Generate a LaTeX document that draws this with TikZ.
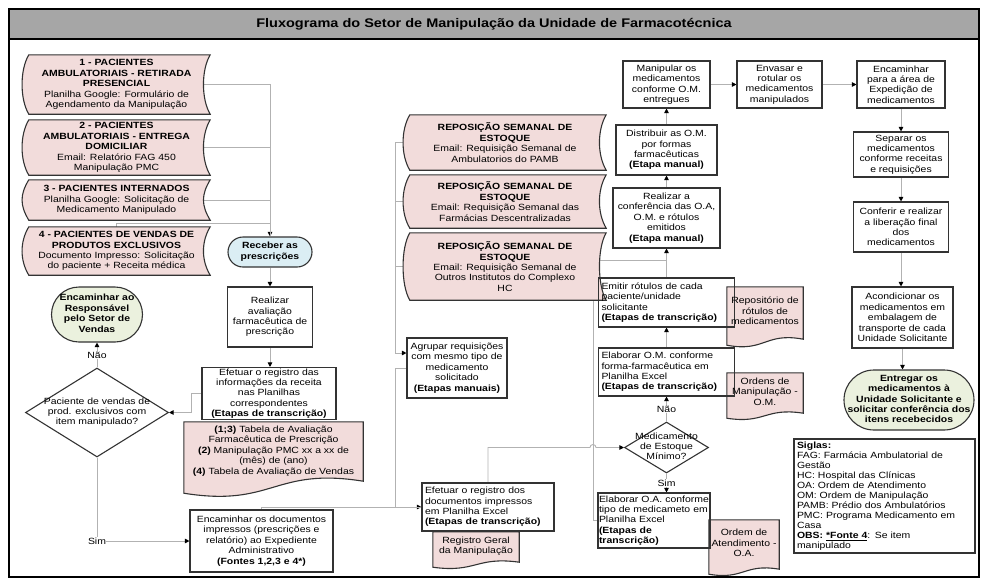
\documentclass[tikz,border=0pt]{standalone}
\usepackage{fontspec}
\setmainfont{Liberation Sans}[FakeStretch=1.16]
\usetikzlibrary{shapes.geometric,shapes.misc,arrows.meta,calc}
\definecolor{pinkfill}{HTML}{F2DCDB}
\definecolor{bluefill}{HTML}{DBEEF4}
\definecolor{greenfill}{HTML}{EBF1DE}
\definecolor{headgray}{HTML}{A6A6A6}
\pgfdeclarelayer{links}
\pgfdeclarelayer{shapes}
\pgfsetlayers{links,shapes,main}
\newcommand{\fsz}{\fontsize{9}{10.4}\selectfont}
\newcommand{\midtxt}[1]{\makebox[0pt]{\smash{\raisebox{-0.25em}{\begin{tabular}{@{}c@{}}#1\end{tabular}}}}}

\begin{document}
\begin{tikzpicture}[x=1pt, y=-1pt,
		every node/.style={font=\fsz, inner sep=1pt},
		box/.style={rectangle, draw=black!80, line width=1.1pt, align=center},
		lbox/.style={box, align=left},
		term/.style={rounded rectangle, draw=black!80, line width=1.1pt, font=\fsz\bfseries},
		src/.style={rectangle, align=center},
		doc/.style={rectangle, align=center, inner sep=0pt},
		dec/.style={diamond, draw=black!80, line width=1.1pt, inner sep=0pt},
		link/.style={draw=black!30, line width=0.9pt},
		arr/.style={link, -{Triangle[color=black, length=4.5pt, width=4.5pt]}},
		lbl/.style={fill=white, inner sep=0.5pt}
	]
	\useasboundingbox (0,0) rectangle (988,584);
	\draw[line width=1.3pt] (9,9) rectangle (979,577);
	\filldraw[fill=headgray, draw=black, line width=1.1pt] (9,9) rectangle (979,39);
	\node[font=\fontsize{12.5}{14}\selectfont\bfseries] (title) at (494,24) {Fluxograma do Setor de Manipulação da Unidade de Farmacotécnica};

	% entradas
	\node[src, minimum width=187, minimum height=59] (s1) at (116.5,84.5) {\textbf{1 - PACIENTES}\\\textbf{AMBULATORIAIS - RETIRADA}\\\textbf{PRESENCIAL}\\Planilha Google: Formulário de\\Agendamento da Manipulação};
	\node[src, minimum width=187, minimum height=55] (s2) at (116.5,147.5) {\textbf{2 - PACIENTES}\\\textbf{AMBULATORIAIS - ENTREGA}\\\textbf{DOMICILIAR}\\Email: Relatório FAG 450\\Manipulação PMC};
	\node[src, minimum width=187, minimum height=40] (s3) at (116.5,200) {\textbf{3 - PACIENTES INTERNADOS}\\Planilha Google: Solicitação de\\Medicamento Manipulado};
	\node[src, minimum width=187, minimum height=48] (s4) at (116.5,251) {\textbf{4 - PACIENTES DE VENDAS DE}\\\textbf{PRODUTOS EXCLUSIVOS}\\Documento Impresso: Solicitação\\do paciente + Receita médica};
	\node[src, minimum width=202, minimum height=55] (r1) at (505,142.5) {\textbf{REPOSIÇÃO SEMANAL DE}\\\textbf{ESTOQUE}\\Email: Requisição Semanal de\\Ambulatorios do PAMB};
	\node[src, minimum width=202, minimum height=53] (r2) at (505,201.5) {\textbf{REPOSIÇÃO SEMANAL DE}\\\textbf{ESTOQUE}\\Email: Requisição Semanal das\\Farmácias Descentralizadas};
	\node[src, minimum width=202, minimum height=67] (r3) at (505,266.5) {\textbf{REPOSIÇÃO SEMANAL DE}\\\textbf{ESTOQUE}\\Email: Requisição Semanal de\\Outros Institutos do Complexo\\HC};

	% coluna esquerda
	\node[term, fill=bluefill, minimum width=86, minimum height=30] (rcv) at (270,252) {\midtxt{Receber as\\prescrições}};
	\node[box, minimum width=85, minimum height=60] (aval) at (270,317) {Realizar\\avaliação\\farmacêutica de\\prescrição};
	\node[box, minimum width=134, minimum height=51] (regA) at (269,393.5) {Efetuar o registro das\\informações da receita\\nas Planilhas\\correspondentes\\\textbf{(Etapas de transcrição)}};
	\node[doc, minimum width=179, minimum height=58] (docA) at (273.5,451) {\textbf{(1;3)} Tabela de Avaliação\\Farmacêutica de Prescrição\\\textbf{(2)} Manipulação PMC xx a xx de\\(mês) de (ano)\\\textbf{(4)} Tabela de Avaliação de Vendas};
	\node[term, fill=greenfill, minimum width=93, minimum height=55] (resp) at (97,314.5) {\midtxt{Encaminhar ao\\Responsável\\pelo Setor de\\Vendas}};
	\node[dec, minimum width=143, minimum height=89] (q1) at (97,412.5) {\midtxt{Paciente de vendas de\\prod. exclusivos com\\item manipulado?}};
	\node[box, minimum width=143, minimum height=62] (docsE) at (261.5,541) {Encaminhar os documentos\\impressos (prescrições e\\relatório) ao Expediente\\Administrativo\\\textbf{(Fontes 1,2,3 e 4*)}};

	% coluna central
	\node[box, minimum width=100, minimum height=60] (grp) at (457,368) {Agrupar requisições\\com mesmo tipo de\\medicamento\\solicitado\\\textbf{(Etapas manuais)}};
	\node[lbox, text width=126, minimum width=132, minimum height=48] (regD) at (488,507) {Efetuar o registro dos\\documentos impressos\\em Planilha Excel\\\textbf{(Etapas de transcrição)}};
	\node[doc, minimum width=86, minimum height=28] (docG) at (476,546) {Registro Geral\\da Manipulação};

	% coluna da manipulacao
	\node[box, minimum width=87, minimum height=47] (manip) at (666.5,84.5) {Manipular os\\medicamentos\\conforme O.M.\\entregues};
	\node[box, minimum width=101, minimum height=50] (dist) at (666.5,150) {Distribuir as O.M.\\por formas\\farmacêuticas\\\textbf{(Etapa manual)}};
	\node[box, minimum width=107, minimum height=60] (conf) at (666.5,218) {Realizar a\\conferência das O.A,\\O.M. e rótulos\\emitidos\\\textbf{(Etapa manual)}};
	\node[lbox, text width=130, minimum width=136, minimum height=49] (emit) at (666.5,302.5) {Emitir rótulos de cada\\paciente/unidade\\solicitante\\\textbf{(Etapas de transcrição)}};
	\node[lbox, text width=130, minimum width=136, minimum height=48] (elabOM) at (666.5,372) {Elaborar O.M. conforme\\forma-farmacêutica em\\Planilha Excel\\\textbf{(Etapas de transcrição)}};
	\node[dec, minimum width=84, minimum height=51] (dec2) at (666.5,447.5) {\midtxt{Medicamento\\de Estoque\\Mínimo?}};
	\node[lbox, text width=110, minimum width=112, minimum height=55] (elabOA) at (654,520.5) {Elaborar O.A. conforme\\tipo de medicameto em\\Planilha Excel\\\textbf{(Etapas de}\\\textbf{transcrição)}};
	\node[doc, minimum width=76, minimum height=48] (docR) at (765,311) {Repositório de\\rótulos de\\medicamentos};
	\node[doc, minimum width=76, minimum height=37] (docO) at (765,391.5) {Ordens de\\Manipulação -\\O.M.};
	\node[doc, minimum width=70, minimum height=46] (docT) at (744,543) {Ordem de\\Atendimento -\\O.A.};
	\coordinate (loopx) at (593,0);

	% expedicao
	\node[box, minimum width=85, minimum height=47] (envas) at (779.5,84.5) {Envasar e\\rotular os\\medicamentos\\manipulados};
	\node[box, minimum width=88, minimum height=47] (exped) at (901,84.5) {Encaminhar\\para a área de\\Expedição de\\medicamentos};
	\node[box, minimum width=95, minimum height=45] (separ) at (901,154.5) {Separar os\\medicamentos\\conforme receitas\\e requisições};
	\node[box, minimum width=95, minimum height=50] (confer) at (901,227) {Conferir e realizar\\a liberação final\\dos\\medicamentos};
	\node[box, minimum width=101, minimum height=61] (acond) at (902.5,317.5) {Acondicionar os\\medicamentos em\\embalagem de\\transporte de cada\\Unidade Solicitante};
	\node[term, fill=greenfill, minimum width=132, minimum height=60] (entreg) at (909,400) {\midtxt{Entregar os\\medicamentos à\\Unidade Solicitante e\\solicitar conferência dos\\itens recebecidos}};
	\node[lbox, font=\fontsize{9}{10}\selectfont, text width=175, minimum width=181, minimum height=114] (siglas) at (884.5,496) {\textbf{Siglas:}\\FAG: Farmácia Ambulatorial de\\Gestão\\HC: Hospital das Clínicas\\OA: Ordem de Atendimento\\OM: Ordem de Manipulação\\PAMB: Prédio dos Ambulatórios\\PMC: Programa Medicamento em\\Casa\\\textbf{OBS: \underline{*Fonte 4}}: Se item\\manipulado};

	\begin{pgfonlayer}{shapes}
		\foreach \n in {s1,s2,s3,s4,r1,r2,r3}
			\filldraw[fill=pinkfill, draw=black!80, line width=1.1pt] ([xshift=6pt]\n.north west) -- (\n.north east) .. controls +(-9pt,-15pt) and +(-9pt,15pt) .. (\n.south east) -- ([xshift=6pt]\n.south west) .. controls +(-9pt,15pt) and +(-9pt,-15pt) .. ([xshift=6pt]\n.north west) -- cycle;
		\foreach \n/\d/\e in {docA/12/13, docG/5/7, docR/6/10, docO/5/8, docT/5/8}
			\filldraw[fill=pinkfill, draw=black!80, line width=1.1pt] (\n.north west) -- (\n.north east) -- ([yshift=\d-\e]\n.south east) .. controls ([yshift=2.2*\d-\e]\n.south) and ([yshift=-1.2*\d-\e]\n.south) .. ([yshift=-\e]\n.south west) -- cycle;
	\end{pgfonlayer}

	\begin{pgfonlayer}{links}
		\draw[arr] ([xshift=-8pt]s1.east) -| (rcv.north);
		\draw[link] ([xshift=-8pt]s2.east) -- (s2.east -| rcv.north);
		\draw[link] ([xshift=-8pt]s3.east) -- (s3.east -| rcv.north);
		\draw[link] (s4.north) -- ++(0,-3) -| (rcv.north);
		\draw[arr] (rcv.south) -- (rcv.south |- aval.north);
		\draw[arr] (aval.south) -- (aval.south |- regA.north);
		\draw[arr] (regA.west) -- ++(-10,0) |- (q1.east);
		\draw[arr] (q1.north) -- node[lbl] (nao1) {Não} (q1.north |- resp.south);
		\draw[arr] (q1.south) |- node[lbl, pos=0.5] (sim1) {Sim} (docsE.west);
		\draw[arr] (docsE.north) |- (regD.west);
		\draw[arr] (r1.west) -- (r1.west -| 395,0) |- ([yshift=15pt]grp.west);
		\draw[link] (r2.west) -- (r2.west -| 395,0);
		\draw[link] (r3.west) -- (r3.west -| 395,0);
		\draw[link] (grp.west) -- (grp.west -| 395,0) |- (regD.west);
		\draw[arr] (regD.north) |- ($(loopx |- dec2.west)+(-3,0)$) arc[start angle=180, end angle=360, radius=3] -- (dec2.west);
		\draw[arr] (dec2.north) -- node[lbl] (nao2) {Não} (dec2.north |- elabOM.south);
		\draw[arr] (dec2.south) -- node[lbl] (sim2) {Sim} (dec2.south |- elabOA.north);
		\draw[arr] (elabOM.north) -- (elabOM.north |- emit.south);
		\draw[arr] (emit.north) -- (emit.north |- conf.south);
		\draw[link] (elabOA.west) -- (elabOA.west -| loopx) |- ($(conf.south)+(0,12)$);
		\draw[arr] (conf.north) -- (conf.north |- dist.south);
		\draw[arr] (dist.north) -- (dist.north |- manip.south);
		\draw[arr] (manip.east) -- (envas.west);
		\draw[arr] (envas.east) -- (exped.west);
		\draw[arr] (exped.south) -- (exped.south |- separ.north);
		\draw[arr] (separ.south) -- (separ.south |- confer.north);
		\draw[arr] (confer.south) -- (confer.south |- acond.north);
		\draw[arr] (acond.south) -- (acond.south |- entreg.north);
	\end{pgfonlayer}
\end{tikzpicture}
\end{document}
